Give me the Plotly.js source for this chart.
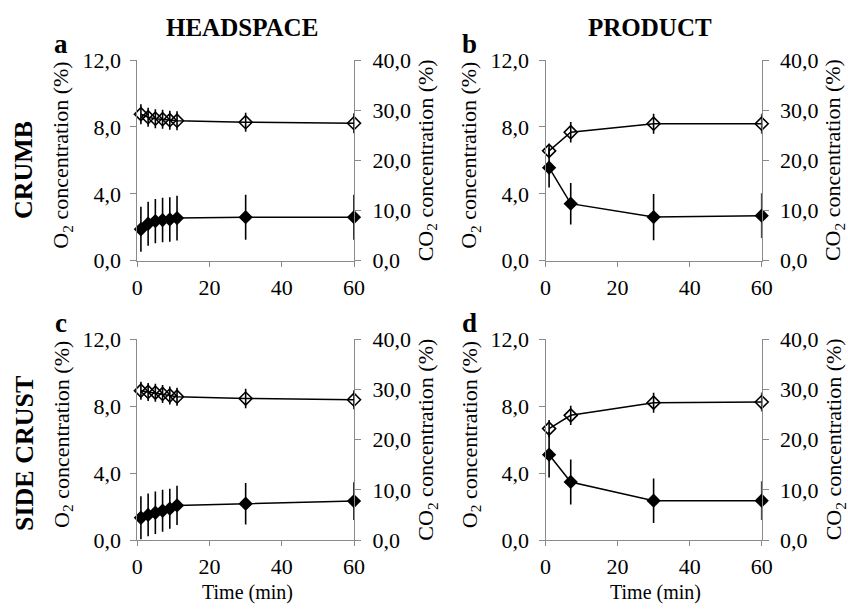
<!DOCTYPE html>
<html>
<head>
<meta charset="utf-8">
<script src="https://cdn.plot.ly/plotly-3.0.1.min.js"></script>
<style>html,body{margin:0;padding:0;background:#fff;}#chart{width:848px;height:611px;}</style>
</head>
<body>
<div id="chart"></div>
<script>
// ---- data ----
const timeHeadspace = [1, 3, 5, 7, 9, 11, 30, 60];
const timeProduct = [1, 7, 30, 60];

// a: crumb / headspace
const aO2 = [1.88, 2.21, 2.37, 2.43, 2.47, 2.55, 2.60, 2.60];
const aO2Err = [1.34, 1.32, 1.32, 1.33, 1.33, 1.34, 1.34, 1.34];
const aCO2 = [29.2, 28.6, 28.3, 28.2, 28.0, 27.9, 27.6, 27.4];
const aCO2Err = [2.0, 1.9, 1.9, 1.9, 1.9, 1.9, 1.9, 2.0];

// b: crumb / product
const bO2 = [5.56, 3.41, 2.61, 2.69];
const bO2Err = [1.18, 1.24, 1.38, 1.34];
const bCO2 = [21.9, 25.6, 27.3, 27.3];
const bCO2Err = [1.4, 2.06, 2.0, 2.0];

// c: side crust / headspace
const cO2 = [1.33, 1.50, 1.63, 1.75, 1.87, 2.07, 2.17, 2.33];
const cO2Err = [1.28, 1.28, 1.27, 1.25, 1.20, 1.17, 1.24, 1.13];
const cCO2 = [29.76, 29.5, 29.36, 29.1, 28.8, 28.56, 28.2, 27.96];
const cCO2Err = [1.8, 1.8, 1.8, 1.8, 1.8, 1.8, 1.96, 1.9];

// d: side crust / product
const dO2 = [5.10, 3.47, 2.35, 2.35];
const dO2Err = [1.36, 1.35, 1.33, 1.16];
const dCO2 = [22.2, 24.85, 27.37, 27.5];
const dCO2Err = [1.73, 1.93, 2.0, 1.9];

const panelLetters = ['a', 'b', 'c', 'd'];
const columnHeaders = ['HEADSPACE', 'PRODUCT'];
const rowLabels = ['CRUMB', 'SIDE CRUST'];
const xTitle = 'Time (min)';
const o2Title = 'O<sub>2</sub> concentration (%)';
const co2Title = 'CO<sub>2</sub> concentration (%)';

// ---- build ----
const W = 848, H = 611;
const FONT = 'Liberation Serif';
const GRAY = '#8a8a8a';
const px = v => v / W;
const py = v => 1 - v / H;

const panels = [
  {t: timeHeadspace, o2: aO2, o2e: aO2Err, co2: aCO2, co2e: aCO2Err, xl: 137.3, xr: 354, yt: 60, yb: 260.7},
  {t: timeProduct, o2: bO2, o2e: bO2Err, co2: bCO2, co2e: bCO2Err, xl: 545.5, xr: 761.7, yt: 60, yb: 260.7},
  {t: timeHeadspace, o2: cO2, o2e: cO2Err, co2: cCO2, co2e: cCO2Err, xl: 137.3, xr: 354, yt: 339.3, yb: 540},
  {t: timeProduct, o2: dO2, o2e: dO2Err, co2: dCO2, co2e: dCO2Err, xl: 545.5, xr: 761.7, yt: 339.3, yb: 540}
];

const traces = [];
const layout = {
  width: W, height: H,
  margin: {l: 0, r: 0, t: 0, b: 0},
  paper_bgcolor: '#fff', plot_bgcolor: 'rgba(0,0,0,0)',
  showlegend: false,
  separators: ', ',
  font: {family: FONT, color: '#000', size: 22},
  annotations: []
};

const tickFont = {family: FONT, size: 22, color: '#000'};

panels.forEach((p, i) => {
  const xi = i + 1;
  const xs = xi === 1 ? '' : String(xi);
  const yL = 2 * i + 1, yR = 2 * i + 2;
  const yLs = yL === 1 ? '' : String(yL);
  const yRs = String(yR);

  layout['xaxis' + xs] = {
    domain: [px(p.xl), px(p.xr)], anchor: 'y' + yLs,
    range: [0, 60], dtick: 20, tick0: 0,
    showgrid: false, zeroline: false, showline: true, linecolor: GRAY, linewidth: 1,
    ticks: 'outside', ticklen: 5, tickcolor: GRAY, tickwidth: 1,
    tickfont: tickFont, ticklabelstandoff: 2, fixedrange: true
  };
  layout['yaxis' + yLs] = {
    domain: [py(p.yb), py(p.yt)], anchor: 'x' + xs,
    range: [0, 12], dtick: 4, tick0: 0, tickformat: '.1f',
    showgrid: false, zeroline: false, showline: true, linecolor: GRAY, linewidth: 1,
    ticks: 'outside', ticklen: 6, tickcolor: GRAY, tickwidth: 1,
    tickfont: tickFont, ticklabelstandoff: 5, fixedrange: true
  };
  layout['yaxis' + yRs] = {
    overlaying: 'y' + yLs, anchor: 'x' + xs, side: 'right',
    range: [0, 40], dtick: 10, tick0: 0, tickformat: '.1f',
    showgrid: false, zeroline: false, showline: true, linecolor: GRAY, linewidth: 1,
    ticks: 'outside', ticklen: 6, tickcolor: GRAY, tickwidth: 1,
    tickfont: tickFont, ticklabelstandoff: 7, fixedrange: true
  };

  traces.push({
    type: 'scatter', mode: 'lines+markers', x: p.t, y: p.o2,
    xaxis: 'x' + xs, yaxis: 'y' + yLs, cliponaxis: false,
    line: {color: '#000', width: 1.5},
    marker: {symbol: 'diamond', size: 11, color: '#000'},
    error_y: {type: 'data', array: p.o2e, visible: true, color: '#000', thickness: 1.6, width: 0}
  });
  traces.push({
    type: 'scatter', mode: 'lines+markers', x: p.t, y: p.co2,
    xaxis: 'x' + xs, yaxis: 'y' + yRs, cliponaxis: false,
    line: {color: '#000', width: 1.5},
    marker: {symbol: 'diamond-open', size: 10, color: '#000', line: {width: 1.6, color: '#000'}},
    error_y: {type: 'data', array: p.co2e, visible: true, color: '#000', thickness: 1.6, width: 0}
  });

  // axis titles as annotations
  const cy = (p.yt + p.yb) / 2;
  layout.annotations.push({
    xref: 'paper', yref: 'paper', x: px(p.xl - 75), y: py(cy - 5),
    text: o2Title, textangle: -90, showarrow: false, xanchor: 'center', yanchor: 'middle',
    font: {family: FONT, size: 22, color: '#000'}
  });
  layout.annotations.push({
    xref: 'paper', yref: 'paper', x: px(p.xr + 73), y: py(cy),
    text: co2Title, textangle: -90, showarrow: false, xanchor: 'center', yanchor: 'middle',
    font: {family: FONT, size: 22, color: '#000'}
  });
  // panel letters
  layout.annotations.push({
    xref: 'paper', yref: 'paper', x: px(p.xl - 76), y: py(p.yt - 16),
    text: '<b>' + panelLetters[i] + '</b>', showarrow: false, xanchor: 'center', yanchor: 'middle',
    font: {family: FONT, size: 27, color: '#000'}
  });
  if (i >= 2) {
    layout.annotations.push({
      xref: 'paper', yref: 'paper', x: px((p.xl + p.xr) / 2 + 2), y: py(592),
      text: xTitle, showarrow: false, xanchor: 'center', yanchor: 'middle',
      font: {family: FONT, size: 20, color: '#000'}
    });
  }
});

// column headers
[[columnHeaders[0], 242], [columnHeaders[1], 650]].forEach(([t, x]) => {
  layout.annotations.push({
    xref: 'paper', yref: 'paper', x: px(x), y: py(27),
    text: '<b>' + t + '</b>', showarrow: false, xanchor: 'center', yanchor: 'middle',
    font: {family: FONT, size: 25, color: '#000'}
  });
});
// row labels
[[rowLabels[0], 170], [rowLabels[1], 454]].forEach(([t, y]) => {
  layout.annotations.push({
    xref: 'paper', yref: 'paper', x: px(24), y: py(y),
    text: '<b>' + t + '</b>', textangle: -90, showarrow: false, xanchor: 'center', yanchor: 'middle',
    font: {family: FONT, size: 26, color: '#000'}
  });
});

Plotly.newPlot('chart', traces, layout, {staticPlot: true, displayModeBar: false});
</script>
</body>
</html>
